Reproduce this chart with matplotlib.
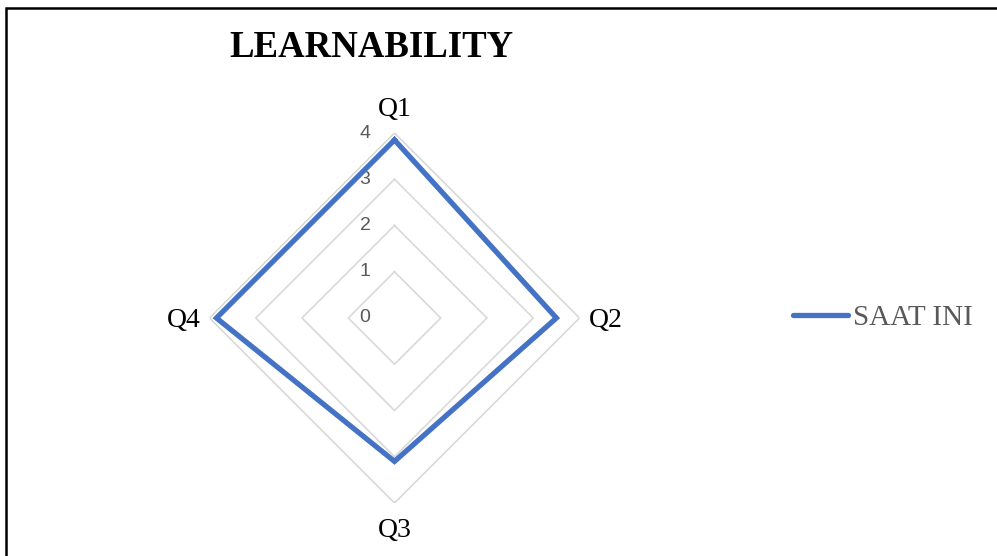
import numpy as np
import matplotlib.pyplot as plt
from matplotlib.patches import Rectangle

categories = ['Q1', 'Q2', 'Q3', 'Q4']
values = [3.85, 3.5, 3.1, 3.85]
rings = [0, 1, 2, 3, 4]
series_name = 'SAAT INI'
title = 'LEARNABILITY'

W, H = 997, 556
fig = plt.figure(figsize=(W / 100, H / 100), dpi=100)

# polar axes centred at (394.5, 318) px, outer ring radius 185 px
cx, cy, R = 394.5, 318, 185
ax = fig.add_axes([(cx - R) / W, (H - cy - R) / H, 2 * R / W, 2 * R / H], projection='polar')
ax.set_theta_zero_location('N')
ax.set_theta_direction(-1)
ax.set_ylim(0, 4)
ax.set_frame_on(False)
ax.grid(False)
ax.set_xticks([])
ax.set_yticks([])
ax.patch.set_alpha(0)

theta = np.linspace(0, 2 * np.pi, len(categories) + 1)

# diamond grid rings
for r in rings[1:]:
    ax.plot(theta, [r] * len(theta), color='#d9d9d9', lw=1.2, zorder=1)

# ring labels, left of the vertical axis
for r in rings:
    ax.annotate(str(r), xy=(0, r), xytext=(-24, 0), textcoords='offset pixels',
                ha='right', va='center', fontsize=14, color='#595959',
                family='Liberation Sans')

vals = values + values[:1]
line, = ax.plot(theta, vals, color='#4472C4', lw=3.8, solid_joinstyle='miter', zorder=3,
                label=series_name)

# category labels
offsets = [((0, 17), 'center'), ((9, -9), 'left'), ((0, -34), 'center'), ((-9, -9), 'right')]
for th, cat, (off, ha) in zip(theta[:-1], categories, offsets):
    ax.annotate(cat, xy=(th, 4), xytext=off, textcoords='offset pixels',
                ha=ha, va='baseline', fontsize=20, color='black', family='Liberation Serif')

fig.text(371 / W, 1 - 57 / H, title, ha='center', va='baseline', fontsize=26.5,
         fontweight='bold', family='Liberation Serif')

leg = fig.legend(handles=[line], loc='center left', bbox_to_anchor=(793 / W, 1 - 318 / H),
                 frameon=False, borderpad=0, borderaxespad=0, handlelength=1.9,
                 handletextpad=0.15, prop={'family': 'Liberation Serif', 'size': 21})
for t in leg.get_texts():
    t.set_color('#595959')
leg.get_lines()[0].set_solid_capstyle('round')

# outer frame (top and left edges visible)
fig.patches.append(Rectangle((6 / W, -0.1), 1.2, 1 - 8 / H + 0.1, transform=fig.transFigure,
                             fill=False, ec='black', lw=1.8))

fig.savefig('out.png', dpi=100)
